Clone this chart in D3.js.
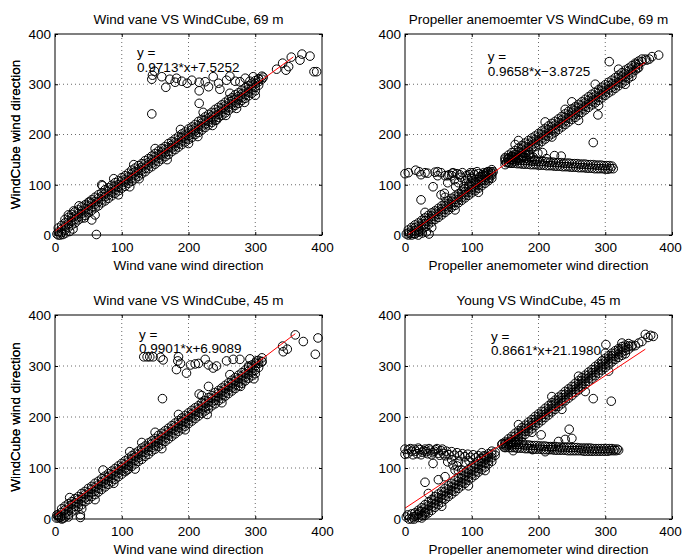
<!DOCTYPE html>
<html>
<head>
<meta charset="utf-8">
<script src="https://cdn.jsdelivr.net/npm/d3@7"></script>
<style>
  body { margin: 0; background: #fff; }
  svg { display: block; }
  text { font-family: "Liberation Sans", Arial, Helvetica, sans-serif; font-size: 13.5px; fill: #000; }
</style>
</head>
<body>
<svg width="682" height="555"></svg>
<script>
/* global d3 */
var titles = [
  "Wind vane VS WindCube, 69 m",
  "Propeller anemoemter VS WindCube, 69 m",
  "Wind vane VS WindCube, 45 m",
  "Young VS WindCube, 45 m"
];
var xLabels = [
  "Wind vane wind direction",
  "Propeller anemometer wind direction",
  "Wind vane wind direction",
  "Propeller anemometer wind direction"
];
var yLabel = "WindCube wind direction";
var ticks = [0, 100, 200, 300, 400];
var gridTicks = [100, 200, 300];

// fitted lines y = a*x + b
var slopes = [0.9713, 0.9658, 0.9901, 0.8661];
var intercepts = [7.5252, -3.8725, 6.9089, 21.1980];
var equations = ["0.9713*x+7.5252", "0.9658*x\u22123.8725", "0.9901*x+6.9089", "0.8661*x+21.1980"];
var fitFrom = [0, 4, 0, 0];
var fitTo = [357, 360, 360, 360];

// scatter points as flat x,y lists
// wind vane 69 m
var vane69Band = [
  15,31, 20,35, 25,41, 30,46, 35,50, 40,56, 45,60, 50,65, 55,70, 60,75, 65,80, 70,84, 75,90, 80,94, 85,99, 90,104, 95,108, 100,114, 105,118, 110,123, 115,129, 120,133, 125,138, 130,142, 135,148, 140,152, 145,157, 150,162, 155,167, 160,172, 165,176, 170,182, 175,186, 180,191, 185,196, 190,201, 195,205, 200,211, 205,215, 210,220, 215,226, 220,230, 225,235, 230,240, 235,244, 240,250, 245,254, 250,259, 255,264, 260,269, 265,273, 270,279, 275,283, 280,288, 285,293, 290,297, 295,302, 300,307, 305,311, 310,316,
  5,14, 10,19, 15,24, 20,29, 25,34, 30,38, 35,43, 40,48, 45,53, 50,58, 55,63, 60,67, 65,73, 70,77, 75,82, 80,87, 85,92, 90,97, 95,101, 100,107, 105,111, 110,116, 115,121, 120,126, 125,131, 130,135, 135,141, 140,145, 145,150, 150,155, 155,160, 160,165, 165,170, 170,174, 175,179, 180,184, 185,189, 190,194, 195,199, 200,203, 205,209, 210,213, 215,218, 220,223, 225,228, 230,233, 235,237, 240,243, 245,247, 250,252, 255,257, 260,262, 265,267, 270,272, 275,276, 280,281, 285,286, 290,291, 295,296, 300,301, 305,305, 310,310,
  5,6, 10,12, 15,17, 20,22, 25,27, 30,31, 35,36, 40,42, 45,46, 50,51, 55,56, 60,61, 65,66, 70,70, 75,76, 80,80, 85,85, 90,90, 95,95, 100,99, 105,105, 110,109, 115,114, 120,119, 125,124, 130,129, 135,133, 140,139, 145,143, 150,148, 155,153, 160,158, 165,163, 170,167, 175,173, 180,177, 185,182, 190,187, 195,192, 200,197, 205,201, 210,207, 215,211, 220,216, 225,221, 230,226, 235,230, 240,236, 245,240, 250,245, 255,250, 260,255, 265,260, 270,264, 275,270, 280,274, 285,279, 290,284, 295,289, 300,294, 305,298,
  5,0, 10,5, 15,10, 20,15, 25,20, 30,24, 35,30, 40,34, 45,39, 50,44, 55,49, 60,54, 65,58, 70,64, 75,68, 80,73, 85,78, 90,83, 95,88, 100,93, 105,97, 110,103, 115,107, 120,112, 125,117, 130,122, 135,126, 140,132, 145,136, 150,141, 155,146, 160,151, 165,156, 170,160, 175,166, 180,170, 185,175, 190,180, 195,185, 200,190, 205,194, 210,200, 215,204, 220,209, 225,214, 230,219, 235,224, 240,228, 245,234, 250,238, 255,243, 260,248, 265,253, 270,258, 275,262, 280,268, 285,272, 290,277, 295,282, 300,287,
  3,2, 8,0, 12,1, 16,4, 22,7, 27,12
];
var vane69Edge = [
  20,40, 28,48, 44,34, 60,40, 70,100, 88,112, 95,80, 112,96, 118,140, 126,112, 150,172, 168,150, 188,210, 200,182, 214,196, 222,244, 236,218, 242,229, 256,238, 262,282, 272,252, 284,264, 292,306, 300,278
];
var vane69Outliers = [
  62,1, 36,58, 52,66, 71,98, 55,30, 145,241, 216,262, 146,318, 149,326, 145,310, 160,315, 166,294, 172,310, 180,304, 182,312, 190,306, 198,302, 205,308, 216,287, 216,304, 225,305, 230,295, 237,315, 245,302, 247,290, 257,308, 262,316, 270,306, 277,305, 285,312, 297,315, 305,310, 312,314,
  332,330, 341,342, 346,328, 350,335, 354,354, 367,348, 370,360, 382,356, 388,325, 392,325
];

// propeller 69 m
var prop69Low = [
  5,10, 10,15, 15,20, 20,24, 25,29, 30,34, 35,39, 40,44, 45,48, 50,53, 55,58, 60,63, 65,68, 70,73, 75,77, 80,82, 85,87, 90,92, 95,97, 100,102, 105,106, 110,111, 115,116, 120,121, 125,126, 130,130,
  5,4, 10,9, 15,14, 20,18, 25,23, 30,28, 35,33, 40,38, 45,43, 50,47, 55,52, 60,57, 65,62, 70,67, 75,71, 80,76, 85,81, 90,86, 95,91, 100,96, 105,100, 110,105, 115,110, 120,115, 125,120, 130,125,
  5,0, 10,3, 15,8, 20,12, 25,17, 30,22, 35,27, 40,32, 45,37, 50,41, 55,46, 60,51, 65,56, 70,61, 75,65, 80,70, 85,75, 90,80, 95,85, 100,90, 105,94, 110,99, 115,104, 120,109, 125,114, 130,119,
  15,2, 20,6, 25,11, 30,16, 35,21, 40,26, 45,31, 50,35, 55,40, 60,45, 65,50, 70,55, 75,59, 80,64, 85,69, 90,74, 95,79, 100,84, 105,88, 110,93, 115,98, 120,103, 125,108, 130,113,
  2,2, 10,0, 14,3, 20,0, 26,4, 32,6, 36,2, 22,8,
  30,45, 40,15, 60,75, 75,50, 100,115, 110,85
];
var prop69Left = [
  70,118, 74,110, 78,122, 80,104, 84,115, 86,124, 90,108, 92,118, 96,100, 98,124, 100,112, 104,120, 106,104, 108,126, 112,116, 114,108, 118,124, 120,118, 124,126, 126,112, 130,122, 132,126, 76,96, 88,96, 82,120, 94,112, 102,124, 110,122, 116,120, 122,124, 128,126, 96,120, 72,124, 66,120,
  0,122, 5,124, 16,129, 21,126, 24,120, 30,124, 34,123, 45,125, 49,126, 54,124, 49,118, 60,118, 42,96, 24,70, 54,80, 59,83, 64,104, 71,123, 64,118
];
var prop69High = [
  150,154, 155,159, 160,164, 165,168, 170,173, 175,178, 180,183, 185,188, 190,193, 195,197, 200,202, 205,207, 210,212, 215,217, 220,222, 225,226, 230,231, 235,236, 240,241, 245,246, 250,251, 255,255, 260,260, 265,265, 270,270, 275,275, 280,280, 285,284, 290,289, 295,294, 300,299, 305,304, 310,308, 315,313, 320,318, 325,323, 330,328, 335,332, 340,337, 345,342, 350,346, 355,350,
  150,147, 155,152, 160,157, 165,161, 170,166, 175,171, 180,176, 185,181, 190,186, 195,190, 200,195, 205,200, 210,205, 215,210, 220,215, 225,219, 230,224, 235,229, 240,234, 245,239, 250,244, 255,248, 260,253, 265,258, 270,263, 275,268, 280,273, 285,277, 290,282, 295,287, 300,292, 305,297, 310,301, 315,306, 320,311, 325,316, 330,321, 335,326, 340,330, 345,335, 350,340, 355,345, 360,350,
  150,140, 155,145, 160,150, 165,154, 170,159, 175,164, 180,169, 185,174, 190,179, 195,183, 200,188, 205,193, 210,198, 215,203, 220,208, 225,212, 230,217, 235,222, 240,227, 245,232, 250,237, 255,241, 260,246, 265,251, 270,256, 275,261, 280,266, 285,270, 290,275, 295,280, 300,285, 305,290, 310,294, 315,299, 320,304, 325,309, 330,314, 335,319, 340,323, 345,328, 350,333,
  160,143, 165,147, 170,152, 175,157, 180,162, 185,167, 190,172, 195,176, 200,181, 205,186, 210,191, 215,196, 220,201, 225,205, 230,210, 235,215, 240,220, 245,225, 250,230, 255,234, 260,239, 265,244, 270,249, 275,254, 280,259, 285,263, 290,268, 295,273, 300,278, 305,283, 310,287, 315,292, 320,297, 325,302, 330,307, 335,312, 340,316,
  165,180, 185,160, 210,225, 220,195, 250,265, 260,228, 285,300, 290,258, 320,330, 330,300, 170,188, 240,250,
  362,348, 366,350, 370,355, 380,358, 306,345, 289,239, 282,184, 346,340, 348,332
];
var prop69Branch = [
  150,151, 154,151, 158,150, 162,150, 166,150, 170,149, 174,149, 178,148, 182,148, 186,148, 190,147, 194,147, 198,147, 202,146, 206,146, 210,146, 214,145, 218,145, 222,145, 226,144, 230,144, 234,144, 238,143, 242,143, 246,143, 250,142, 254,142, 258,142, 262,141, 266,141, 270,141, 274,140, 278,140, 282,140, 286,139, 290,139, 294,139, 298,138, 302,138, 306,138, 310,137,
  152,144, 156,143, 160,143, 164,143, 168,142, 172,142, 176,141, 180,141, 184,141, 188,140, 192,140, 196,140, 200,139, 204,139, 208,139, 212,138, 216,138, 220,138, 224,137, 228,137, 232,137, 236,136, 240,136, 244,136, 248,135, 252,135, 256,135, 260,134, 264,134, 268,134, 272,133, 276,133, 280,133, 284,132, 288,132, 292,132, 296,132, 300,131, 304,131, 308,132, 312,132,
  160,156, 166,160, 172,158, 178,155, 187,160, 192,155, 199,163, 206,164, 224,158, 234,157, 212,152, 195,150, 164,155, 170,154, 176,158, 182,153, 188,154, 156,154
];

// wind vane 45 m
var vane45Band = [
  10,20, 15,25, 20,30, 25,34, 30,40, 35,44, 40,50, 45,54, 50,60, 55,64, 60,70, 65,74, 70,79, 75,84, 80,89, 85,94, 90,99, 95,104, 100,109, 105,114, 110,119, 115,124, 120,129, 125,133, 130,139, 135,143, 140,149, 145,153, 150,158, 155,164, 160,168, 165,173, 170,178, 175,183, 180,188, 185,193, 190,198, 195,203, 200,208, 205,213, 210,218, 215,222, 220,228, 225,232, 230,238, 235,242, 240,248, 245,252, 250,257, 255,262, 260,267, 265,272, 270,277, 275,282, 280,287, 285,292, 290,297, 295,302, 300,306, 305,311, 310,316,
  5,8, 10,13, 15,18, 20,23, 25,28, 30,32, 35,38, 40,42, 45,48, 50,52, 55,58, 60,62, 65,67, 70,72, 75,77, 80,82, 85,87, 90,92, 95,97, 100,102, 105,107, 110,112, 115,117, 120,122, 125,127, 130,131, 135,137, 140,141, 145,147, 150,151, 155,156, 160,161, 165,166, 170,171, 175,176, 180,181, 185,186, 190,191, 195,196, 200,201, 205,206, 210,211, 215,216, 220,221, 225,226, 230,230, 235,236, 240,240, 245,246, 250,250, 255,255, 260,260, 265,265, 270,270, 275,275, 280,280, 285,285, 290,290, 295,295, 300,300, 305,305, 310,309,
  5,2, 10,6, 15,11, 20,16, 25,21, 30,25, 35,31, 40,35, 45,41, 50,45, 55,51, 60,55, 65,60, 70,65, 75,70, 80,75, 85,80, 90,85, 95,90, 100,95, 105,100, 110,105, 115,110, 120,115, 125,120, 130,124, 135,130, 140,134, 145,140, 150,144, 155,149, 160,154, 165,159, 170,164, 175,169, 180,174, 185,179, 190,184, 195,189, 200,194, 205,199, 210,204, 215,209, 220,214, 225,219, 230,223, 235,229, 240,233, 245,239, 250,243, 255,248, 260,253, 265,258, 270,263, 275,268, 280,273, 285,278, 290,283, 295,288, 300,292, 305,297,
  10,0, 15,4, 20,9, 25,14, 30,18, 35,24, 40,28, 45,34, 50,38, 55,44, 60,48, 65,53, 70,58, 75,63, 80,68, 85,73, 90,78, 95,83, 100,88, 105,93, 110,98, 115,103, 120,108, 125,113, 130,117, 135,123, 140,127, 145,133, 150,137, 155,142, 160,147, 165,152, 170,157, 175,162, 180,167, 185,172, 190,177, 195,182, 200,187, 205,192, 210,197, 215,202, 220,207, 225,212, 230,216, 235,222, 240,226, 245,232, 250,236, 255,241, 260,246, 265,251, 270,256, 275,261, 280,266, 285,271, 290,276, 295,281, 300,285,
  2,2, 5,5, 3,8, 8,3, 12,1, 20,4
];
var vane45Edge = [
  22,42, 40,20, 60,38, 88,70, 112,132, 120,98, 130,150, 150,170, 160,138, 185,205, 195,175, 220,242, 228,205, 250,228, 262,283, 278,260, 290,300, 298,275
];
var vane45Outliers = [
  161,236, 38,3, 38,8, 72,96, 108,96, 133,318, 138,318, 142,318, 147,318, 158,317, 162,312, 182,293, 184,310, 185,318, 188,305, 197,286, 203,302, 210,304, 215,305, 225,313, 230,302, 237,296, 242,300, 230,260, 216,245, 257,310, 267,313, 277,313, 292,314, 302,310, 310,308,
  360,361, 372,348, 394,355, 390,323, 341,339, 342,328, 348,333
];

// Young 45 m
var young45Low = [
  15,12, 20,17, 25,22, 30,28, 35,33, 40,38, 45,44, 50,49, 55,54, 60,60, 65,65, 70,70, 75,76, 80,81, 85,86, 90,91, 95,97, 100,102, 105,107, 110,113, 115,118, 120,123, 125,128, 130,133,
  10,0, 15,5, 20,10, 25,15, 30,21, 35,26, 40,31, 45,37, 50,42, 55,47, 60,53, 65,58, 70,63, 75,68, 80,74, 85,79, 90,84, 95,90, 100,95, 105,100, 110,106, 115,111, 120,116, 125,121, 130,127, 135,131,
  20,3, 25,8, 30,14, 35,19, 40,24, 45,30, 50,35, 55,40, 60,46, 65,51, 70,56, 75,61, 80,67, 85,72, 90,77, 95,83, 100,88, 105,93, 110,99, 115,104, 120,109, 125,114, 130,120, 135,125,
  25,2, 30,7, 35,12, 40,17, 45,23, 50,28, 55,33, 60,39, 65,44, 70,49, 75,54, 80,60, 85,65, 90,70, 95,76, 100,81, 105,86, 110,92, 115,97, 120,102, 125,108, 130,113,
  2,4, 6,0, 12,4, 18,8, 22,14, 30,12, 10,10, 26,6, 4,8, 14,0,
  35,50, 55,25, 80,95, 95,65, 115,130, 120,95
];
var young45Left = [
  0,137, 0,127, 5,136, 10,133, 14,137, 18,128, 22,136, 26,131, 30,137, 34,128, 38,135, 42,130, 46,136, 50,129, 54,134, 58,128, 62,133, 66,126, 70,132, 74,125, 78,130, 82,124, 86,128, 90,122, 94,127, 98,121, 102,126, 106,120, 110,124, 114,119, 118,124, 122,120,
  4,128, 8,138, 12,126, 16,133, 20,139, 24,126, 28,134, 32,132, 36,138, 40,126, 44,133, 48,138, 52,125, 56,137, 60,124,
  30,72, 50,77, 60,83, 42,109, 72,106, 85,96, 75,96, 64,112, 70,116, 80,112, 90,110, 96,114, 78,104
];
var young45High = [
  145,146, 150,151, 155,157, 160,162, 165,168, 170,173, 175,179, 180,184, 185,190, 190,195, 195,201, 200,206, 205,211, 210,217, 215,222, 220,228, 225,233, 230,239, 235,244, 240,250, 245,255, 250,260, 255,266, 260,271, 265,277, 270,282, 275,288, 280,293, 285,299, 290,304, 295,310, 300,315, 305,320, 310,325, 315,330, 320,334, 325,338, 330,341, 335,344,
  150,145, 155,151, 160,156, 165,162, 170,167, 175,173, 180,178, 185,184, 190,189, 195,195, 200,200, 205,205, 210,211, 215,216, 220,222, 225,227, 230,233, 235,238, 240,244, 245,249, 250,254, 255,260, 260,265, 265,271, 270,276, 275,282, 280,287, 285,293, 290,298, 295,304, 300,309, 305,314, 310,320, 315,325, 320,329, 325,333, 330,336, 335,339, 340,341,
  150,140, 155,145, 160,150, 165,156, 170,161, 175,167, 180,172, 185,178, 190,183, 195,189, 200,194, 205,199, 210,205, 215,210, 220,216, 225,221, 230,227, 235,232, 240,238, 245,243, 250,248, 255,254, 260,259, 265,265, 270,270, 275,276, 280,281, 285,287, 290,292, 295,298, 300,303, 305,308, 310,314, 315,319, 320,323, 325,327, 330,330, 335,333,
  160,144, 165,150, 170,155, 175,161, 180,166, 185,172, 190,177, 195,183, 200,188, 205,193, 210,199, 215,204, 220,210, 225,215, 230,221, 235,226, 240,232, 245,237, 250,242, 255,248, 260,253, 265,259, 270,264, 275,270, 280,275, 285,281, 290,286, 295,292, 300,297, 305,302, 310,308, 315,313, 320,317, 325,321, 330,324,
  170,185, 190,170, 220,240, 235,215, 260,280, 270,250, 300,325, 305,290, 325,345,
  345,340, 350,345, 355,348, 360,362, 364,356, 368,360, 372,358, 340,338, 301,342, 282,236, 309,231, 246,176, 204,165, 240,156, 191,136, 250,158, 230,152
];
var young45Branch = [
  146,148, 150,148, 154,147, 158,147, 162,147, 166,146, 170,146, 174,146, 178,145, 182,145, 186,145, 190,144, 194,144, 198,144, 202,143, 206,143, 210,143, 214,142, 218,142, 222,142, 226,142, 230,141, 234,141, 238,141, 242,141, 246,140, 250,140, 254,140, 258,140, 262,139, 266,139, 270,139, 274,139, 278,139, 282,138, 286,138, 290,138, 294,138, 298,138, 302,138, 306,138, 310,138, 314,137, 318,137,
  148,141, 152,141, 156,140, 160,140, 164,140, 168,139, 172,139, 176,139, 180,138, 184,138, 188,138, 192,137, 196,137, 200,137, 204,137, 208,136, 212,136, 216,136, 220,136, 224,135, 228,135, 232,135, 236,135, 240,135, 244,134, 248,134, 252,134, 256,134, 260,134, 264,134, 268,133, 272,133, 276,133, 280,133, 284,133, 288,133, 292,133, 296,133, 300,133, 304,133, 308,134, 312,134, 316,134, 320,135,
  160,152, 168,150, 176,150, 162,134, 210,132, 220,140
];

function toPairs(flat) {
  var out = [];
  for (var k = 0; k + 1 < flat.length; k += 2) out.push([flat[k], flat[k + 1]]);
  return out;
}

var panelPoints = [
  toPairs(vane69Band.concat(vane69Edge, vane69Outliers)),
  toPairs(prop69Low.concat(prop69Left, prop69High, prop69Branch)),
  toPairs(vane45Band.concat(vane45Edge, vane45Outliers)),
  toPairs(young45Low.concat(young45Left, young45High, young45Branch))
];

// layout of the four axes boxes (pixels) and equation anchor (data units)
var frames = [
  {left: 55, top: 34, w: 267, h: 201, eq: [123, 354]},
  {left: 405, top: 34, w: 267, h: 201, eq: [124, 346]},
  {left: 55, top: 315, w: 267, h: 204, eq: [126, 353]},
  {left: 405, top: 315, w: 267, h: 204, eq: [129, 350]}
];

var svg = d3.select("svg");
svg.append("rect").attr("width", 682).attr("height", 555).attr("fill", "#fff");

frames.forEach(function(f, i) {
  var x = d3.scaleLinear().domain([0, 400]).range([0, f.w]),
    y = d3.scaleLinear().domain([0, 400]).range([f.h, 0]);

  var g = svg.append("g").attr("transform", "translate(" + f.left + "," + f.top + ")");

  // dotted grid
  g.selectAll(".gx").data(gridTicks).enter().append("line")
    .attr("x1", function(d) { return x(d); }).attr("x2", function(d) { return x(d); })
    .attr("y1", 0).attr("y2", f.h)
    .attr("stroke", "#444").attr("stroke-width", 0.8).attr("stroke-dasharray", "1,3");
  g.selectAll(".gy").data(gridTicks).enter().append("line")
    .attr("y1", function(d) { return y(d); }).attr("y2", function(d) { return y(d); })
    .attr("x1", 0).attr("x2", f.w)
    .attr("stroke", "#444").attr("stroke-width", 0.8).attr("stroke-dasharray", "1,3");

  // markers
  g.selectAll(".pt").data(panelPoints[i]).enter().append("circle")
    .attr("cx", function(d) { return x(d[0]); })
    .attr("cy", function(d) { return y(d[1]); })
    .attr("r", 4.3)
    .attr("fill", "none")
    .attr("stroke", "#000")
    .attr("stroke-width", 1);

  // regression line
  var line = d3.line()
    .x(function(d) { return x(d); })
    .y(function(d) { return y(slopes[i] * d + intercepts[i]); });
  g.append("path")
    .attr("d", line([fitFrom[i], fitTo[i]]))
    .attr("stroke", "red").attr("stroke-width", 1).attr("fill", "none");

  // axes with inward ticks
  var ax = g.append("g").attr("transform", "translate(0," + f.h + ")")
    .call(d3.axisBottom(x).tickValues(ticks).tickSizeInner(-3).tickSizeOuter(0).tickPadding(7));
  var ay = g.append("g")
    .call(d3.axisLeft(y).tickValues(ticks).tickSizeInner(-3).tickSizeOuter(0).tickPadding(4));
  var at = g.append("g")
    .call(d3.axisTop(x).tickValues(ticks).tickSizeInner(-3).tickSizeOuter(0).tickFormat(""));
  var ar = g.append("g").attr("transform", "translate(" + f.w + ",0)")
    .call(d3.axisRight(y).tickValues(ticks).tickSizeInner(-3).tickSizeOuter(0).tickFormat(""));
  [ax, ay, at, ar].forEach(function(a) {
    a.select(".domain").remove();
    a.selectAll("line").attr("stroke", "#000");
    a.attr("font-size", null).attr("font-family", null);
  });
  // last label of the right column sits against the page edge
  if (f.left + f.w > 600) {
    ax.selectAll(".tick text").filter(function(d) { return d === 400; }).attr("dx", -2);
  }

  g.append("rect")
    .attr("width", f.w).attr("height", f.h)
    .attr("fill", "none").attr("stroke", "#000").attr("stroke-width", 1);

  // equation text
  g.append("text")
    .attr("x", x(f.eq[0])).attr("y", y(f.eq[1]))
    .text("y =");
  g.append("text")
    .attr("x", x(f.eq[0])).attr("y", y(f.eq[1]) + 14.5)
    .text(equations[i]);

  // titles and labels
  g.append("text")
    .attr("x", f.w / 2).attr("y", -10.5)
    .attr("text-anchor", "middle")
    .text(titles[i]);
  g.append("text")
    .attr("x", f.w / 2).attr("y", f.h + 34.5)
    .attr("text-anchor", "middle")
    .text(xLabels[i]);
  g.append("text")
    .attr("transform", "translate(" + (20 - f.left) + "," + (f.h / 2) + ") rotate(-90)")
    .attr("text-anchor", "middle")
    .text(yLabel);
});
</script>
</body>
</html>
